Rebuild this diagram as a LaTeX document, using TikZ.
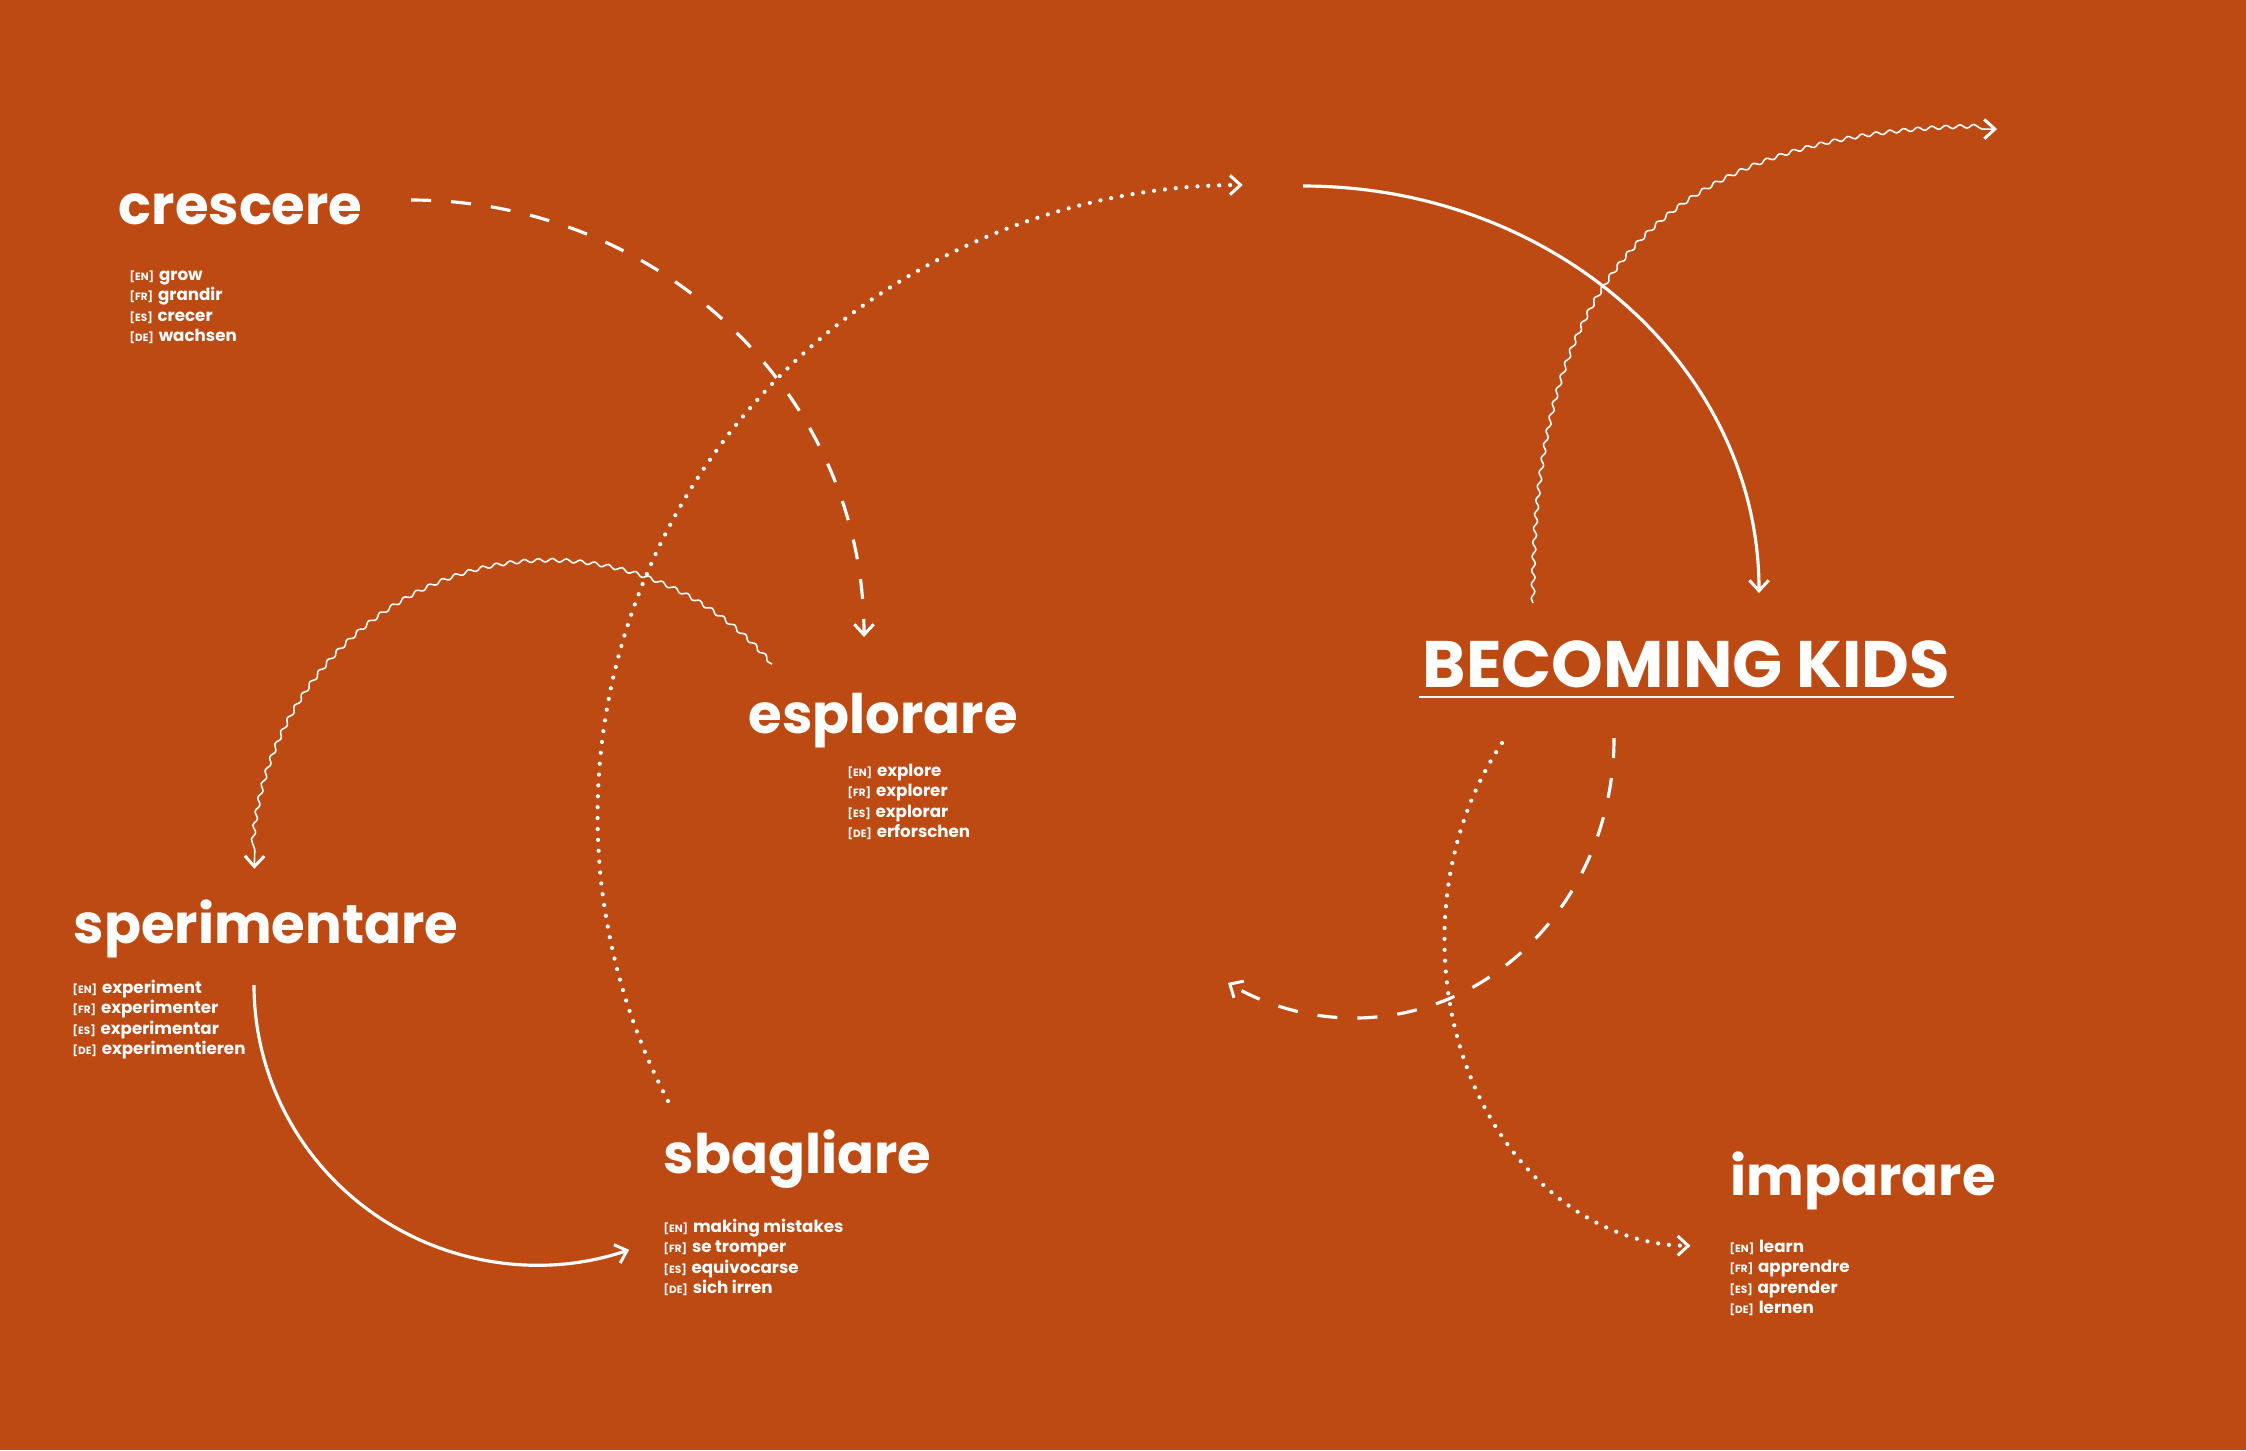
\documentclass[tikz,border=0pt]{standalone}
\usepackage{fontspec}
\setmainfont{Poppins}
\usetikzlibrary{positioning,calc,arrows.meta,decorations.pathmorphing}
\definecolor{rust}{RGB}{188,74,18}
\newcommand\wordfont{\fontsize{15.5}{18}\bfseries\selectfont}
\newcommand\kidsfont{\fontsize{18.7}{22}\bfseries\selectfont}
\newcommand\glossfont{\fontsize{4.75}{6}\bfseries\selectfont}
\newcommand\langtag[1]{{\fontsize{3}{4}\bfseries\selectfont[#1]}\hspace{1.4pt}}
\tikzset{>={Straight Barb[length=3pt,width=5.5pt,line width=0.85pt]}}
\tikzset{
  word/.style={font=\wordfont,text=white,inner sep=0pt,anchor=base west},
  gloss/.style={font=\glossfont,text=white,inner sep=0pt,anchor=base west},
  solidflow/.style={draw=white,line width=0.9pt,->},
  dashflow/.style={draw=white,line width=0.9pt,dash pattern=on 5.7pt off 5.7pt,->},
  dotflow/.style={draw=white,line width=1.2pt,line cap=round,dash pattern=on 0pt off 3.1pt,->},
  waveflow/.style={draw=white,line width=0.45pt,->,decorate,
    decoration={snake,amplitude=0.5pt,segment length=4pt,post length=4pt}}
}

\begin{document}
\begin{tikzpicture}[x=0.01cm,y=-0.01cm]
\fill[rust] (0,0) rectangle (2246,1450);
\useasboundingbox (0,0) rectangle (2246,1450);

% words
\node[word] (crescere) at (118,224) {crescere};
\node[word] (esplorare) at (748,733) {esplorare};
\node[word] (sperimentare) at (73,943) {sperimentare};
\node[word] (sbagliare) at (663,1173) {sbagliare};
\node[word] (imparare) at (1730,1195) {imparare};
\node[word,font=\kidsfont] (kids) at (1422,687) {BECOMING KIDS};
\draw[white,line width=0.6pt] ([shift={(-3,10)}]kids.base west) -- ([shift={(3,10)}]kids.base east);

% translations
\foreach \lang/\txt [count=\i from 0] in {EN/grow,FR/grandir,ES/crecer,DE/wachsen}
  \node[gloss] (crescere-\lang) at (129,{280+20.5*\i}) {\langtag{\lang}\txt};
\foreach \lang/\txt [count=\i from 0] in {EN/explore,FR/explorer,ES/explorar,DE/erforschen}
  \node[gloss] (esplorare-\lang) at (847,{776+20.5*\i}) {\langtag{\lang}\txt};
\foreach \lang/\txt [count=\i from 0] in {EN/experiment,FR/experimenter,ES/experimentar,DE/experimentieren}
  \node[gloss] (sperimentare-\lang) at (72,{993+20.5*\i}) {\langtag{\lang}\txt};
\foreach \lang/\txt [count=\i from 0] in {EN/making mistakes,FR/se tromper,ES/equivocarse,DE/sich irren}
  \node[gloss] (sbagliare-\lang) at (663,{1232+20.5*\i}) {\langtag{\lang}\txt};
\foreach \lang/\txt [count=\i from 0] in {EN/learn,FR/apprendre,ES/aprender,DE/lernen}
  \node[gloss] (imparare-\lang) at (1729,{1252+20.5*\i}) {\langtag{\lang}\txt};

% loose ends of the arrows
\coordinate (crescere-out) at (411,200);
\coordinate (esplorare-out) at (772,664);
\coordinate (sperimentare-out) at (254,985);
\coordinate (sbagliare-out) at (668,1101);
\coordinate (top-in) at (1303,186);
\coordinate (kids-wave) at (1533,603);
\coordinate (kids-dash) at (1614,738);
\coordinate (kids-dot) at (1502,743);
\coordinate (corner-in) at (1997,129);

% arrows
\draw[dashflow] (crescere-out) arc[start angle=-90,end angle=0,x radius=453,y radius=437];
\draw[waveflow] (esplorare-out) arc[start angle=-42,end angle=-180,x radius=297,y radius=306];
\draw[solidflow] (sperimentare-out) arc[start angle=180,end angle=71,x radius=283,y radius=280];
\draw[dotflow] (sbagliare-out) arc[start angle=153,end angle=270,x radius=645,y radius=630];
\draw[solidflow] (top-in) arc[start angle=-90,end angle=0,x radius=456,y radius=407];
\draw[waveflow] (kids-wave) .. controls (1533,300) and (1642,129) .. (corner-in);
\draw[dashflow] (kids-dash) arc[start angle=0,end angle=119,x radius=260,y radius=280];
\draw[dotflow] (kids-dot) arc[start angle=220,end angle=90,x radius=246,y radius=306];
\end{tikzpicture}
\end{document}
